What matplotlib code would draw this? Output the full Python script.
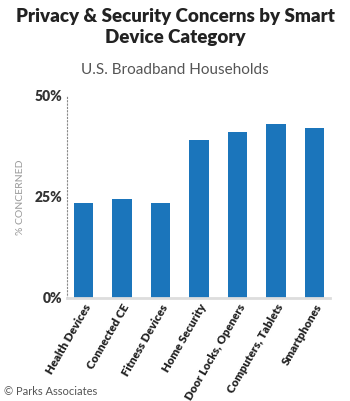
import matplotlib.pyplot as plt

categories = ["Health Devices", "Connected CE", "Fitness Devices", "Home Security",
              "Door Locks, Openers", "Computers, Tablets", "Smartphones"]
concerned = [23.5, 24.5, 23.5, 39, 41, 43, 42]
yticks = [0, 25, 50]
ytick_labels = ["0%", "25%", "50%"]


def main():
    plt.rcParams["font.family"] = ["Lato", "DejaVu Sans"]
    fig = plt.figure(figsize=(3.5, 4.01), dpi=100)
    ax = fig.add_axes([0.191, 0.257, 0.752, 0.504])

    x = range(len(categories))
    ax.bar(x, concerned, width=0.5, color="#1b75bb", zorder=2)

    ax.set_ylim(0, 50)
    ax.set_xlim(-0.43, len(categories) - 0.6)
    ax.set_yticks(yticks)
    ax.set_yticklabels(ytick_labels, fontsize=10, fontweight="heavy", color="#333333")
    ax.set_xticks(list(x))
    ax.set_xticklabels(categories, rotation=60, ha="right", rotation_mode="anchor",
                       fontsize=8.3, fontweight="heavy", color="#222222")
    ax.tick_params(length=0, pad=3)

    for s in ["top", "right"]:
        ax.spines[s].set_visible(False)
    ax.spines["left"].set_linestyle((0, (1, 2)))
    ax.spines["left"].set_color("#888888")
    ax.spines["bottom"].set_color("#dddddd")
    ax.spines["bottom"].set_linewidth(2)

    ax.set_ylabel("% CONCERNED", fontsize=7.5, color="#999999", labelpad=7)

    fig.text(0.5, 0.98, "Privacy & Security Concerns by Smart\nDevice Category",
             ha="center", va="top", fontsize=13.5, fontweight="heavy", color="#222222",
             linespacing=1.25)
    fig.text(0.5, 0.843, "U.S. Broadband Households", ha="center", va="top",
             fontsize=11, color="#555555")
    fig.text(0.01, 0.01, "© Parks Associates", ha="left", va="bottom",
             fontsize=8, color="#555555")

    fig.savefig("out.png", dpi=100)


if __name__ == "__main__":
    main()
